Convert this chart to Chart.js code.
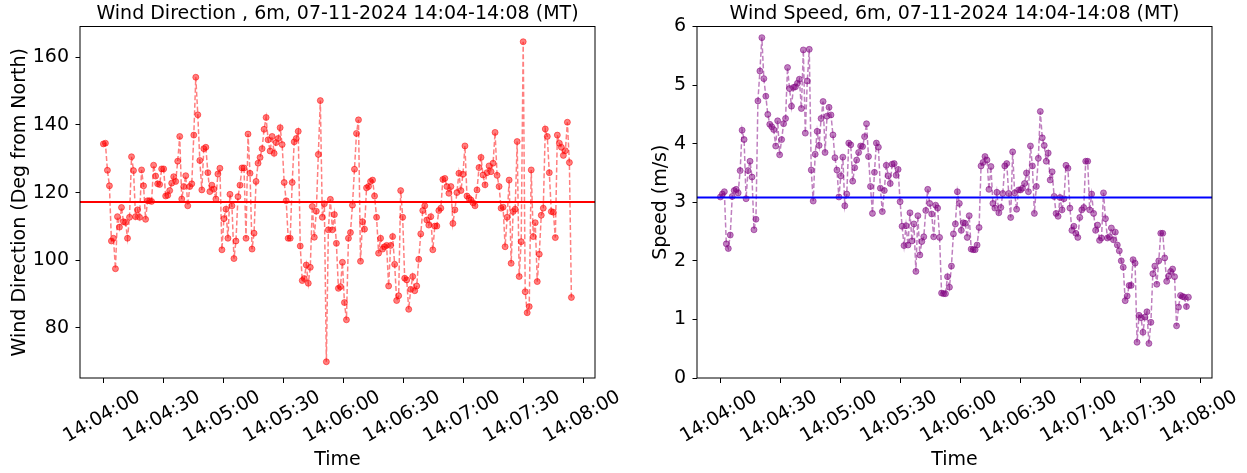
<!DOCTYPE html>
<html>
<head>
<meta charset="utf-8">
<script src="https://cdn.jsdelivr.net/npm/chart.js@4.4.1/dist/chart.umd.min.js"></script>
<style>
  body { margin: 0; background: #fff; }
  #wrap { position: relative; width: 1247px; height: 473px; }
  canvas { position: absolute; top: 0; }
</style>
</head>
<body>
<div id="wrap">
  <canvas id="dirChart" width="620" height="473" style="left:0"></canvas>
  <canvas id="speedChart" width="627" height="473" style="left:620px"></canvas>
</div>
<script>
// seconds after 14:04:00
const timeTicks = [0, 30, 60, 90, 120, 150, 180, 210, 240];
const timeTickLabels = ['14:04:00', '14:04:30', '14:05:00', '14:05:30', '14:06:00',
                        '14:06:30', '14:07:00', '14:07:30', '14:08:00'];
const lastSample = 234; // last reading at about 14:07:54
const dirTicks = [80, 100, 120, 140, 160];
const speedTicks = [0, 1, 2, 3, 4, 5, 6];

// wind direction, deg from north
const windDir = [
  134.4, 134.6, 126.6, 122, 105.7, 106.5, 97.5, 112.9, 109.8, 115.6,
  111.4, 111.2, 106.5, 112.7, 130.6, 126.5, 112.9, 114.9, 112.7, 126.7,
  122, 112.1, 117.6, 117.6, 117.4,
  128.1, 124.9, 122.6, 122.4, 127, 127, 119, 119.2, 120.6, 122.8,
  124.7, 123.3, 129.3, 136.6, 118.1, 121.8, 125, 116.1, 121.8, 122.6,
  137, 154.1, 143, 129.5, 120.8, 133, 133.4, 125.9, 120.3, 122.2,
  121, 118.1, 125.5, 127.2, 103.1, 112.3, 115.1, 106.5, 119.5, 116.1,
  100.5, 105.7, 118.8, 122.2, 127.3, 127.3, 106.5, 137.3, 125.7, 103.3,
  108, 123.3,
  128.7, 130.4, 133, 138.7, 142.2, 135.6, 132.3, 136.6, 131.6, 134.8,
  136, 139.2, 134.2, 123, 117.6, 106.5, 106.5, 123, 135, 136,
  138.1, 104.2, 94, 94.6, 98.6, 93.2, 97.9, 115.9, 106.8, 114.5,
  131.3, 147.2, 112.7, 116.7, 70, 109, 118, 109, 113.5, 105,
  91.7, 92.2, 99.4, 87.5, 82.4, 106.5, 108.2, 116.3, 126.9, 137.5,
  141.5, 99.7, 111.4, 109.2, 121.4, 121.8, 123.3, 123.7, 119, 112.7,
  102.1, 106.5, 103.3, 104, 104.4, 92.4, 104.4, 107, 98.8, 88.1,
  89.5, 120.6, 112.7, 94.7, 94.2, 85.5, 91.4, 95.2, 91, 92.4,
  100.3, 107.8,
  114.7, 116.1, 111.9, 110.4, 112.9, 103.1, 110.1, 110.1, 114.7, 115.4,
  123.9, 124.2, 121.8, 119.8, 121.8, 110.9, 114.9, 120, 125.7, 120.6,
  125.4, 133.8, 119, 118.3, 117.8, 117, 116.1, 120.8, 127.4, 130.4,
  125.2, 122.3, 125.9, 127.9, 126.2, 128.7, 137.8, 125.1, 121.8, 115.4,
  115.7, 104, 112.7, 123.7, 99.1, 114.4, 115.1, 135.1, 95.2, 105.5,
  164.6, 90.7, 84.5, 86.3, 126.7, 107, 111.1, 93.7, 101.8, 113.3,
  115.4, 138.8, 136.6, 125.9, 114.4, 114.2, 106.7, 137, 134.6, 133.4,
  131, 132.4, 140.8, 128.9, 89
];

// wind speed, m/s
const windSpeed = [
  3.09, 3.14, 3.18, 2.29, 2.21, 2.44, 3.10, 3.2, 3.22, 3.16,
  3.54, 4.23, 4.07, 3.06, 3.54, 3.70, 3.43, 2.53, 2.71, 4.73,
  5.24, 5.81, 5.11, 4.81, 4.5, 4.33, 4.29, 4.24, 3.96, 4.39,
  3.81, 4.07, 4.34, 4.43, 5.3, 4.94, 4.64, 4.96, 4.97, 5.03,
  5.1, 4.6, 5.6, 4.18, 5.07, 5.61, 3.55, 3.02, 3.82, 4.21,
  3.97, 4.43, 4.72, 3.85, 4.47, 4.62, 4.49, 4.15, 3.76, 3.55,
  3.09, 3.45, 3.77, 2.94, 3.14, 4.01, 3.98, 3.36, 3.59, 3.72,
  3.85, 3.96, 3.95, 4.12, 4.34, 3.78, 3.27, 2.81, 3.51, 4.01,
  3.94,
  3.24, 2.84, 3.2, 3.63, 3.45, 3.32, 3.65, 3.66, 3.46,
  3.56, 3.01, 2.59, 2.26, 2.6, 2.27, 2.82, 2.34, 2.63, 1.82,
  2.77, 2.1, 2.33, 2.41, 2.86, 3.22, 2.98, 2.8, 2.41, 2.95,
  2.9, 2.4, 1.45, 1.44, 1.44, 1.73, 1.55, 1.91, 2.46, 2.63,
  3.18, 2.98, 2.52, 2.65, 2.64, 2.4, 2.77, 2.2, 2.19, 2.19,
  2.27, 2.57, 3.62, 3.68, 3.78, 3.72, 3.22, 3.61, 2.98, 2.9,
  3.17, 2.82, 2.91, 3.15, 3.62, 3.66, 3.15, 2.74, 3.86, 3.16,
  2.88, 3.21, 3.21, 3.24, 3.32, 3.5, 3.18, 3.96, 3.62, 2.81,
  3.27, 3.75, 4.55,
  4.10, 3.97, 3.70, 3.84, 3.38, 3.52, 3.10, 2.81, 2.76, 3.08,
  2.87, 3.06, 3.63, 3.58, 2.9, 2.52, 2.59, 2.47, 2.4, 2.74,
  2.87, 2.91, 3.70, 3.70, 2.87, 3.14, 2.81, 2.52, 2.61, 2.35,
  2.39, 3.16, 2.72, 2.39, 2.41, 2.56, 2.36, 2.49, 2.27, 2.17,
  2.0, 1.89, 1.32, 1.40, 1.58, 1.58, 2.02, 1.96, 0.61, 1.07,
  1.03, 0.78, 1.04, 1.13, 0.59, 0.95, 1.78, 1.91, 1.6, 2.0,
  2.47, 2.47, 2.05, 1.65, 1.74, 1.82, 1.86, 1.73, 0.89, 1.21,
  1.41, 1.39, 1.38, 1.22, 1.38
];

const dirMean = 117.2;
const speedMean = 3.08;

const xMin = -11.7, xMax = 245.8;
const FONT = 'DejaVu Sans';

// samples are evenly spaced between 14:04:00 and the last reading
function toPoints(values) {
  const step = lastSample / (values.length - 1);
  return values.map((v, i) => ({ x: i * step, y: v }));
}

// box round the plot + slanted time labels (centred under the tick like matplotlib)
const framePlugin = {
  id: 'frame',
  afterDraw(chart) {
    const { ctx, chartArea: a } = chart;
    const x = chart.scales.x;
    ctx.save();
    ctx.strokeStyle = '#000';
    ctx.lineWidth = 1;
    ctx.strokeRect(a.left, a.top, a.right - a.left, a.bottom - a.top);
    ctx.font = '19px "' + FONT + '"';
    ctx.fillStyle = '#000';
    ctx.textAlign = 'center';
    ctx.textBaseline = 'middle';
    x.ticks.forEach((t, i) => {
      ctx.save();
      ctx.translate(x.getPixelForValue(t.value) - 1.5, a.bottom + 39);
      ctx.rotate(-Math.PI / 6);
      ctx.fillText(timeTickLabels[i], 0, 0);
      ctx.restore();
    });
    ctx.restore();
  }
};

function makeChart(id, cfg) {
  const font = { family: FONT, size: 19, weight: 'normal' };
  return new Chart(document.getElementById(id), {
    type: 'line',
    data: {
      datasets: [{
        data: [{ x: xMin, y: cfg.mean }, { x: xMax, y: cfg.mean }],
        borderColor: cfg.meanColor,
        borderWidth: 2,
        pointRadius: 0
      }, {
        data: toPoints(cfg.values),
        borderColor: cfg.color,
        borderWidth: 1.5,
        borderDash: [5, 2.5],
        pointRadius: 3,
        pointBorderWidth: 1,
        pointBackgroundColor: cfg.color,
        pointBorderColor: cfg.color,
        tension: 0
      }]
    },
    options: {
      responsive: false,
      animation: false,
      devicePixelRatio: 1,
      layout: { padding: { left: 0, right: cfg.padRight, top: 0, bottom: 0 } },
      plugins: {
        legend: { display: false },
        tooltip: { enabled: false },
        title: {
          display: true,
          text: cfg.title,
          fullSize: false,
          color: '#000',
          font: font,
          padding: { top: 3, bottom: 0.7 }
        }
      },
      scales: {
        x: {
          type: 'linear',
          min: xMin,
          max: xMax,
          afterBuildTicks: s => { s.ticks = timeTicks.map(v => ({ value: v })); },
          afterFit: s => { s.height = 95; },
          ticks: { display: false },
          grid: { drawOnChartArea: false, tickLength: 5, tickColor: '#000' },
          border: { display: false },
          title: { display: true, text: 'Time', color: '#000', font: font,
                   padding: { top: 0, bottom: 1.6 } }
        },
        y: {
          min: cfg.yMin,
          max: cfg.yMax,
          afterBuildTicks: s => { s.ticks = cfg.ticks.map(v => ({ value: v })); },
          afterFit: s => { s.width = cfg.axisWidth; },
          ticks: { color: '#000', font: font, padding: 6.5 },
          grid: { drawOnChartArea: false, tickLength: 4.5, tickColor: '#000' },
          border: { display: false },
          title: { display: true, text: cfg.yLabel, color: '#000', font: font,
                   padding: { top: cfg.titlePad, bottom: 0 } }
        }
      }
    },
    plugins: [framePlugin]
  });
}

makeChart('dirChart', {
  title: 'Wind Direction , 6m, 07-11-2024 14:04-14:08 (MT)',
  yLabel: 'Wind Direction (Deg from North)',
  values: windDir,
  ticks: dirTicks,
  yMin: 65.2, yMax: 169.1,
  mean: dirMean,
  color: 'rgba(255, 0, 0, 0.5)',
  meanColor: '#ff0000',
  axisWidth: 80, padRight: 25, titlePad: 8.6
});

makeChart('speedChart', {
  title: 'Wind Speed, 6m, 07-11-2024 14:04-14:08 (MT)',
  yLabel: 'Speed (m/s)',
  values: windSpeed,
  ticks: speedTicks,
  yMin: 0, yMax: 6,
  mean: speedMean,
  color: 'rgba(128, 0, 128, 0.5)',
  meanColor: '#0000ff',
  axisWidth: 77, padRight: 35, titlePad: 29.3
});
</script>
</body>
</html>
